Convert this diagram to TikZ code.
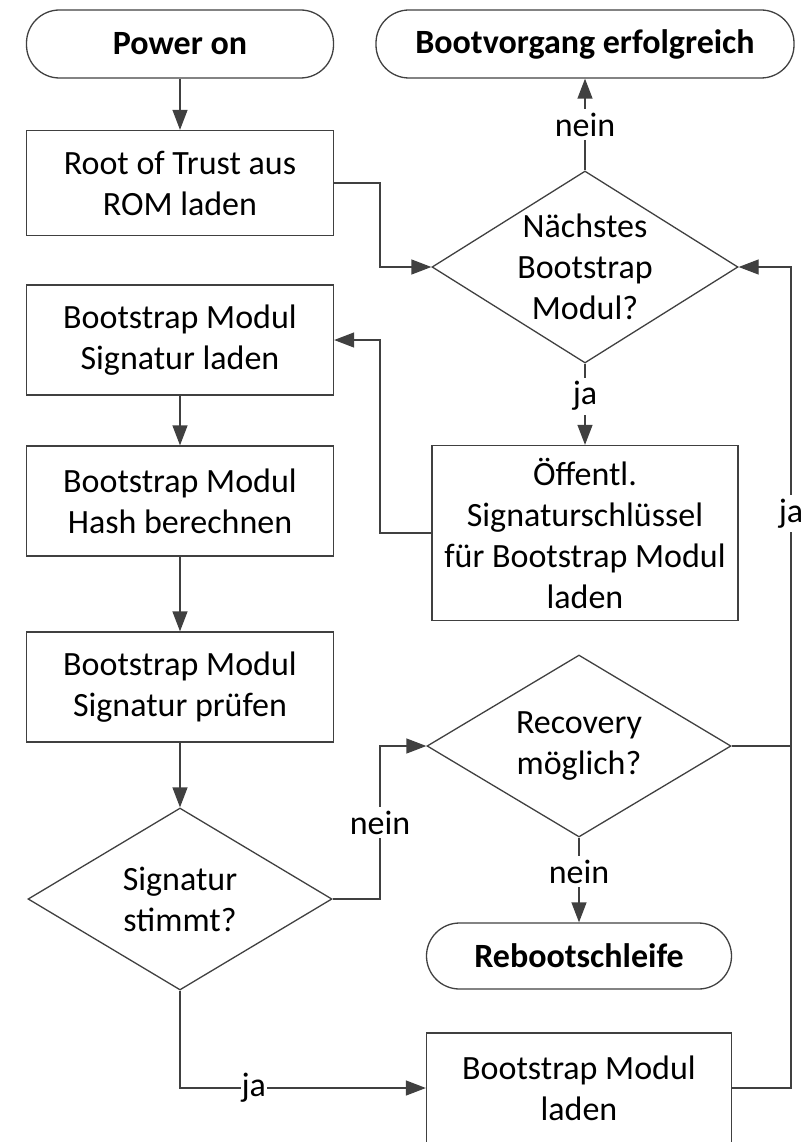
\documentclass[tikz,border=0pt]{standalone}
\usepackage{fontspec}
\setmainfont{Carlito}
\usetikzlibrary{shapes.geometric,arrows.meta,calc}
\definecolor{linegray}{HTML}{404040}
\begin{document}
\begin{tikzpicture}[x=1pt,y=1pt,
  every node/.style={font=\fontsize{34}{41}\selectfont, align=center, inner sep=0pt},
  stepbox/.style={draw=linegray, line width=1.3pt, minimum width=307pt, minimum height=110pt},
  pill/.style={draw=linegray, line width=1.3pt, rounded corners=33pt, minimum height=68pt, font=\fontsize{34}{41}\selectfont\bfseries},
  dia/.style={draw=linegray, line width=1.3pt, diamond, minimum width=306pt, minimum height=192pt},
  conn/.style={draw=linegray, line width=1.3pt},
  arr/.style={conn, -{Triangle[length=20pt,width=15pt]}},
  lbl/.style={fill=white, inner sep=4pt, text=black}
]
\useasboundingbox (0,0) rectangle (805,-1142);
% nodes
\node[pill, minimum width=307pt] (pon) at (180,-44) {Power on};
\node[pill, minimum width=418pt] (boot) at (585,-44) {Bootvorgang erfolgreich};
\node[stepbox, minimum height=105pt] (root) at (180,-183) {Root of Trust aus\\ROM laden};
\node[dia] (d1) at (585,-267) {};
\node at (d1) {Nächstes\\Bootstrap\\Modul?};
\node[stepbox] (sig) at (180,-340) {Bootstrap Modul\\Signatur laden};
\node[stepbox] (hash) at (180,-501) {Bootstrap Modul\\Hash berechnen};
\node[stepbox, minimum width=306pt, minimum height=175pt] (key) at (585,-533) {Öffentl.\\Signaturschlüssel\\für Bootstrap Modul\\laden};
\node[stepbox] (pruef) at (180,-687) {Bootstrap Modul\\Signatur prüfen};
\node[dia, minimum width=304pt, minimum height=182pt] (d2) at (180,-899) {};
\node at (d2) {Signatur\\stimmt?};
\node[dia, minimum width=304pt, minimum height=182pt] (rec) at (579,-746) {};
\node at (rec) {Recovery\\möglich?};
\node[pill, minimum width=305pt, minimum height=66pt] (reb) at (579,-956) {Rebootschleife};
\node[stepbox, minimum width=305pt] (load) at (579,-1088) {Bootstrap Modul\\laden};
\coordinate (xl) at (380,0);
\coordinate (xr) at (791,0);
% connectors
\draw[arr] (pon) -- (root);
\draw[arr] (root.east) -- (root.east -| xl) |- (d1.west);
\draw[arr] (d1.north) -- node[lbl] {nein} (boot.south);
\draw[arr] (d1.south) -- node[lbl, pos=0.4] {ja} (key.north);
\draw[arr] (key.west) -- (key.west -| xl) |- (sig.east);
\draw[arr] (sig) -- (hash);
\draw[arr] (hash) -- (pruef);
\draw[arr] (pruef) -- (d2.north);
\draw[arr] (d2.east) -- (d2.east -| xl) -- node[lbl] {nein} (xl |- rec.west) -- (rec.west);
\draw[arr] (rec.south) -- node[lbl, pos=0.4] {nein} (reb.north);
\draw[arr] (d2.south) -- (d2.south |- load.west) -- node[lbl, pos=0.3, inner sep=1pt] {ja} (load.west);
\draw[conn] (rec.east) -- (rec.east -| xr);
\draw[arr] (load.east) -- (load.east -| xr) -- node[lbl, pos=0.7] {ja} (xr |- d1.east) -- (d1.east);
\end{tikzpicture}
\end{document}
